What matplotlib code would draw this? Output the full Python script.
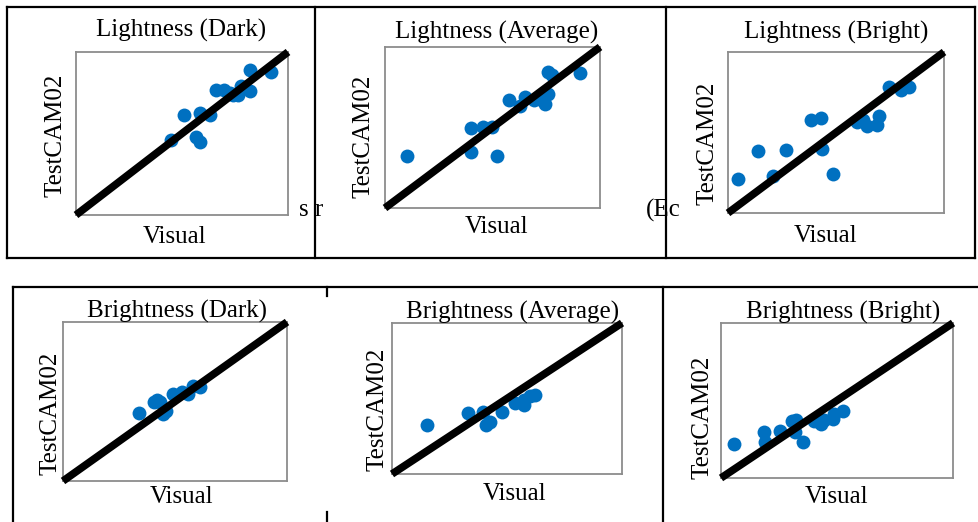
import matplotlib.pyplot as plt
from matplotlib.lines import Line2D

plt.rcParams['font.family'] = ['Liberation Serif', 'DejaVu Serif']

W, H = 979, 522
DOT = '#0070C0'

titles = ['Lightness (Dark)', 'Lightness (Average)', 'Lightness (Bright)',
          'Brightness (Dark)', 'Brightness (Average)', 'Brightness (Bright)']

# visual vs TestCAM02 values, scaled 0..1 inside each panel
light_dark_x = [0.45, 0.51, 0.584, 0.63, 0.568, 0.584, 0.662, 0.70, 0.74, 0.765, 0.78, 0.82, 0.82, 0.92, 0.725]
light_dark_y = [0.46, 0.615, 0.625, 0.615, 0.48, 0.445, 0.768, 0.768, 0.738, 0.738, 0.79, 0.76, 0.89, 0.88, 0.75]

light_avg_x = [0.104, 0.40, 0.40, 0.457, 0.496, 0.522, 0.578, 0.63, 0.65, 0.693, 0.73, 0.744, 0.76, 0.76, 0.775, 0.907]
light_avg_y = [0.32, 0.495, 0.35, 0.505, 0.505, 0.32, 0.67, 0.633, 0.69, 0.67, 0.67, 0.645, 0.71, 0.845, 0.825, 0.84]

light_bright_x = [0.045, 0.137, 0.208, 0.27, 0.385, 0.43, 0.437, 0.485, 0.598, 0.623, 0.645, 0.688, 0.70, 0.745, 0.803, 0.838]
light_bright_y = [0.21, 0.385, 0.23, 0.39, 0.575, 0.59, 0.395, 0.245, 0.565, 0.58, 0.54, 0.545, 0.60, 0.78, 0.765, 0.78]

bright_dark_x = [0.339, 0.406, 0.433, 0.448, 0.46, 0.493, 0.53, 0.56, 0.58, 0.612, 0.42]
bright_dark_y = [0.43, 0.50, 0.50, 0.42, 0.44, 0.55, 0.56, 0.55, 0.60, 0.59, 0.51]

bright_avg_x = [0.152, 0.33, 0.394, 0.41, 0.428, 0.48, 0.536, 0.572, 0.575, 0.601, 0.62]
bright_avg_y = [0.326, 0.404, 0.408, 0.322, 0.342, 0.41, 0.47, 0.46, 0.49, 0.514, 0.525]

bright_bright_x = [0.057, 0.187, 0.191, 0.253, 0.306, 0.325, 0.318, 0.353, 0.40, 0.432, 0.445, 0.482, 0.485, 0.525]
bright_bright_y = [0.222, 0.297, 0.234, 0.305, 0.366, 0.376, 0.30, 0.232, 0.366, 0.35, 0.376, 0.38, 0.41, 0.43]

series = [(light_dark_x, light_dark_y), (light_avg_x, light_avg_y), (light_bright_x, light_bright_y),
          (bright_dark_x, bright_dark_y), (bright_avg_x, bright_avg_y), (bright_bright_x, bright_bright_y)]

# pixel layout: axes box (x0, y0, x1, y1), title xy, xlabel xy, ylabel xy
layout = [
    ((76, 52, 288, 215), (181, 30), (175, 237), (56, 135)),
    ((385, 47, 600, 208), (497, 32), (497, 227), (364, 136)),
    ((728, 52, 944, 213), (836, 32), (826, 236), (708, 143)),
    ((63, 322, 287, 481), (177, 311), (182, 497), (51, 413)),
    ((392, 323, 622, 474), (513, 312), (515, 494), (378, 409)),
    ((721, 323, 953, 478), (843, 312), (837, 497), (703, 417)),
]

fig = plt.figure(figsize=(W / 100, H / 100), dpi=100)


def fx(px):
    return px / W


def fy(py):
    return 1 - py / H


fs = 18
for (xs, ys), title, (box, tpos, xpos, ypos) in zip(series, titles, layout):
    x0, y0, x1, y1 = box
    ax = fig.add_axes([fx(x0), fy(y1), (x1 - x0) / W, (y1 - y0) / H])
    ax.scatter(xs, ys, s=100, color=DOT, zorder=2, linewidths=0)
    ax.plot([0, 1], [0, 1], color='black', lw=5.5, zorder=3, clip_on=False, solid_capstyle='butt')
    ax.set_xlim(0, 1)
    ax.set_ylim(0, 1)
    ax.set_xticks([])
    ax.set_yticks([])
    for sp in ax.spines.values():
        sp.set_color('#8c8c8c')
        sp.set_linewidth(1.3)
    fig.text(fx(tpos[0]), fy(tpos[1]), title, fontsize=fs, ha='center', va='center')
    fig.text(fx(xpos[0]), fy(xpos[1]), 'Visual', fontsize=fs, ha='center', va='center')
    fig.text(fx(ypos[0]), fy(ypos[1]), 'TestCAM02', fontsize=fs, ha='center', va='center', rotation=90)

# table borders of the scanned page
border = dict(color='black', lw=1.6)
segments = [
    ((7, 975), (7, 7)), ((7, 975), (258, 258)), ((7, 7), (7, 258)), ((975, 975), (7, 258)),
    ((315, 315), (7, 258)), ((666, 666), (7, 258)),
    ((13, 979), (287, 287)), ((13, 13), (287, 522)), ((663, 663), (287, 522)),
    ((327, 327), (287, 296)), ((327, 327), (512, 522)),
]
for xs_, ys_ in segments:
    fig.add_artist(Line2D([fx(v) for v in xs_], [fy(v) for v in ys_], **border))

# text fragments from the page underneath
fig.text(fx(299), fy(210), 's r', fontsize=fs, ha='left', va='center')
fig.text(fx(646), fy(210), '(Ec', fontsize=fs, ha='left', va='center')

fig.savefig('out.png', dpi=100)
